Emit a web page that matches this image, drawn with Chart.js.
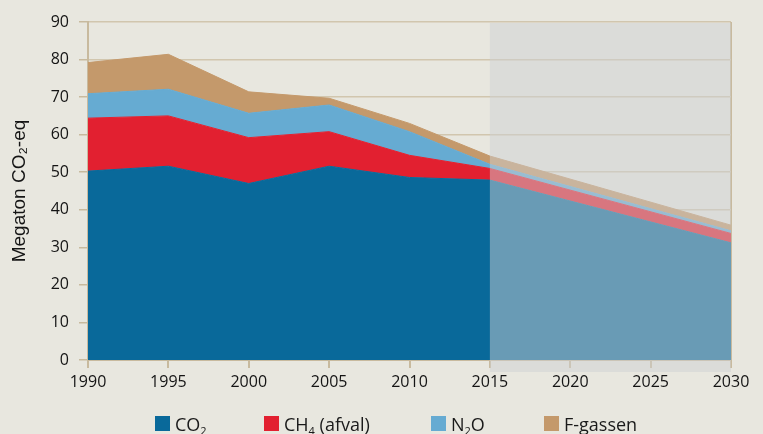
<!DOCTYPE html>
<html><head><meta charset="utf-8">
<script src="https://cdn.jsdelivr.net/npm/chart.js@4/dist/chart.umd.min.js"></script>
<style>
html,body{margin:0;padding:0;background:#e8e7df;}
#wrap{position:relative;width:763px;height:434px;overflow:hidden;background:#e8e7df;}
canvas{position:absolute;left:0;top:0;}
.lg{position:absolute;font-family:"Open Sans";font-size:18px;line-height:18px;color:#1a1a1a;white-space:nowrap;}
.bx{position:absolute;width:15px;height:15px;}
.lg sub{font-size:11px;vertical-align:-4px;line-height:0;}
</style></head>
<body><div id="wrap"><canvas id="c" width="763" height="434"></canvas><div id="legend"></div></div>
<script>
// ---- data ----
const years = [1990, 1995, 2000, 2005, 2010, 2015, 2030];
const co2   = [50.3, 51.6, 47.0, 51.6, 48.6, 47.9, 31.2];
const ch4   = [14.1, 13.4, 12.2,  9.2,  5.9,  3.1,  2.5];
const n2o   = [ 6.5,  7.1,  6.5,  7.1,  6.3,  1.1,  0.7];
const fgas  = [ 8.3,  9.3,  5.7,  1.8,  2.2,  2.2,  1.5];
const xTicks = [1990, 1995, 2000, 2005, 2010, 2015, 2020, 2025, 2030];
const yTicks = [0, 10, 20, 30, 40, 50, 60, 70, 80, 90];
const seriesNames = ['CO₂', 'CH₄ (afval)', 'N₂O', 'F-gassen'];
const legendHtml = ['CO<sub>2</sub>', 'CH<sub>4</sub> (afval)', 'N<sub>2</sub>O', 'F-gassen'];
const yTitle = 'Megaton CO₂-eq';
const projectionStart = 2015, projectionEnd = 2030;

// ---- styles ----
const colors = ['#09699a', '#e22030', '#66abd2', '#c4996b'];
const gridTan = '#d1c6ae';
const axisTan = '#c8ba9e';
const textCol = '#141414';
const legendBoxLeft = [155, 264, 431, 544];
const legendTextLeft = [175, 284, 451, 564];

const series = [co2, ch4, n2o, fgas];
const datasets = series.map((vals, i) => ({
  label: seriesNames[i],
  data: years.map((x, j) => ({x: x, y: vals[j]})),
  backgroundColor: colors[i],
  borderColor: colors[i],
  borderWidth: 1,
  fill: i === 0 ? 'origin' : '-1',
  pointRadius: 0,
  tension: 0
}));

const tickFont = {family: 'Open Sans', size: 16};

const overlayPlugin = {
  id: 'projection',
  afterDraw(chart) {
    const {ctx, chartArea, scales} = chart;
    const x0 = scales.x.getPixelForValue(projectionStart);
    const x1 = scales.x.getPixelForValue(projectionEnd);
    ctx.save();
    ctx.fillStyle = 'rgba(207,209,211,0.49)';
    ctx.fillRect(x0, chartArea.top + 1, x1 - x0, chartArea.bottom + 12 - chartArea.top - 1);
    ctx.restore();
  }
};

new Chart(document.getElementById('c'), {
  type: 'line',
  data: {datasets},
  plugins: [overlayPlugin],
  options: {
    responsive: false,
    animation: false,
    devicePixelRatio: 1,
    layout: {padding: {left: 0, right: 32, top: 22, bottom: 44}},
    plugins: {legend: {display: false}, tooltip: {enabled: false}},
    scales: {
      x: {
        type: 'linear', min: 1990, max: 2030,
        afterBuildTicks: s => { s.ticks = xTicks.map(v => ({value: v})); },
        afterFit: s => { s.height = 30; },
        ticks: {callback: v => String(v), font: tickFont, color: textCol, padding: 5, maxRotation: 0, autoSkip: false},
        grid: {
          color: c => (c.tick && c.tick.value === projectionEnd) ? axisTan : 'rgba(0,0,0,0)',
          tickColor: axisTan, tickLength: 8, lineWidth: 2, drawOnChartArea: true
        },
        border: {color: axisTan, width: 2}
      },
      y: {
        stacked: true, min: 0, max: 90,
        afterBuildTicks: s => { s.ticks = yTicks.map(v => ({value: v})); },
        afterFit: s => { s.width = 88; },
        ticks: {font: tickFont, color: textCol, padding: 10},
        grid: {color: gridTan, tickColor: axisTan, tickLength: 9, lineWidth: 1.5},
        border: {color: axisTan, width: 2},
        title: {display: true, text: yTitle, font: {family: 'Liberation Sans', size: 19}, color: textCol, padding: {top: 8, bottom: 0}}
      }
    }
  }
});

// ---- legend ----
const lg = document.getElementById('legend');
legendHtml.forEach((h, i) => {
  const b = document.createElement('div');
  b.className = 'bx';
  b.style.left = legendBoxLeft[i] + 'px';
  b.style.top = '416px';
  b.style.background = colors[i];
  lg.appendChild(b);
  const t = document.createElement('div');
  t.className = 'lg';
  t.style.left = legendTextLeft[i] + 'px';
  t.style.top = '415px';
  t.innerHTML = h;
  lg.appendChild(t);
});
</script>
</body></html>
